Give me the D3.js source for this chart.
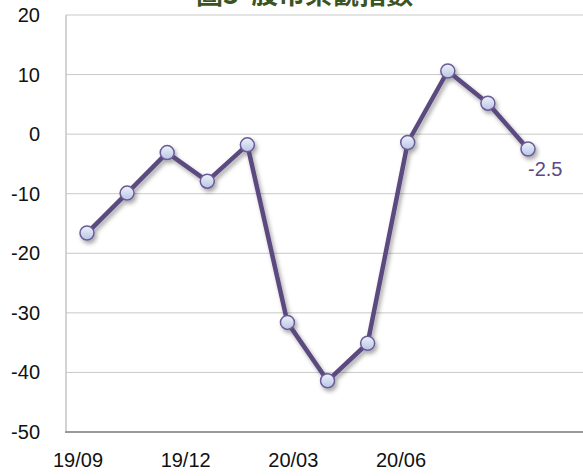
<!DOCTYPE html>
<html>
<head>
<meta charset="utf-8">
<script src="https://cdn.jsdelivr.net/npm/d3@7.9.0/dist/d3.min.js"></script>
<style>
  body { margin: 0; background: #fff; }
  svg { display: block; font-family: "Liberation Sans", Arial, sans-serif; }
</style>
</head>
<body>
<svg id="chart" width="583" height="476"></svg>
<script>
// data
const months = ['19/09', '19/10', '19/11', '19/12', '20/01', '20/02', '20/03', '20/04', '20/05', '20/06', '20/07', '20/08'];
const values = [-16.6, -9.9, -3.1, -7.9, -1.8, -31.6, -41.4, -35.1, -1.4, 10.6, 5.2, -2.5];
const tickLabels = ['19/09', '19/12', '20/03', '20/06'];
const yTicks = [20, 10, 0, -10, -20, -30, -40, -50];
const title = '圖3  股市樂觀指數';

const svg = d3.select('#chart');
const plotLeft = 66, plotRight = 640, plotTop = 15, plotBottom = 432;

const y = d3.scaleLinear().domain([-50, 20]).range([plotBottom, plotTop]);
const x = d3.scaleLinear().domain([0, months.length - 1]).range([87, 528]);
// category labels are spaced on their own in the original
const xLab = d3.scaleLinear().domain([0, 9]).range([78, 401]);

const defs = svg.append('defs');
const grad = defs.append('linearGradient').attr('id', 'dot').attr('x1', 0).attr('y1', 0).attr('x2', 0).attr('y2', 1);
grad.append('stop').attr('offset', '0%').attr('stop-color', '#eef2fb');
grad.append('stop').attr('offset', '100%').attr('stop-color', '#b7c6e6');
const f = defs.append('filter').attr('id', 'shadow').attr('x', '-20%').attr('y', '-20%').attr('width', '140%').attr('height', '140%');
f.append('feDropShadow').attr('dx', 2).attr('dy', 3).attr('stdDeviation', 2)
  .attr('flood-color', '#000').attr('flood-opacity', 0.35);

// gridlines
svg.append('g').selectAll('line').data(yTicks.filter(d => d > -50)).join('line')
  .attr('x1', plotLeft).attr('x2', plotRight)
  .attr('y1', d => y(d)).attr('y2', d => y(d))
  .attr('stroke', '#c9c9c9').attr('stroke-width', 1);

// axis lines
svg.append('line').attr('x1', plotLeft).attr('x2', plotLeft).attr('y1', plotTop).attr('y2', plotBottom)
  .attr('stroke', '#c4c4c4').attr('stroke-width', 1.5);
svg.append('line').attr('x1', plotLeft - 1).attr('x2', plotRight).attr('y1', plotBottom).attr('y2', plotBottom)
  .attr('stroke', '#9a9a9a').attr('stroke-width', 2);

// y tick labels
svg.append('g').selectAll('text').data(yTicks).join('text')
  .attr('x', 40).attr('y', d => y(d))
  .attr('text-anchor', 'end').attr('dominant-baseline', 'central')
  .attr('font-size', 20).attr('fill', '#111')
  .text(d => d);

// x tick labels
svg.append('g').selectAll('text').data(tickLabels).join('text')
  .attr('x', d => xLab(months.indexOf(d)))
  .attr('y', 467)
  .attr('text-anchor', 'middle')
  .attr('font-size', 20).attr('fill', '#111')
  .text(d => d);

// series
const line = d3.line().x((d, i) => x(i)).y(d => y(d));
const series = svg.append('g').attr('filter', 'url(#shadow)');
series.append('path').datum(values)
  .attr('d', line)
  .attr('fill', 'none')
  .attr('stroke', '#5b4a7f')
  .attr('stroke-width', 4.5)
  .attr('stroke-linejoin', 'round');
series.selectAll('circle').data(values).join('circle')
  .attr('cx', (d, i) => x(i)).attr('cy', d => y(d))
  .attr('r', 7)
  .attr('fill', 'url(#dot)')
  .attr('stroke', '#6a5b95').attr('stroke-width', 1.5);

// last value label
const last = values.length - 1;
svg.append('text')
  .attr('x', x(last)).attr('y', y(values[last]) + 27)
  .attr('font-size', 20).attr('fill', '#5b4a86')
  .text(values[last]);

// title (cut off at the top in the original)
svg.append('text')
  .attr('x', 196).attr('y', 4)
  .attr('font-family', '"Noto Sans CJK TC", sans-serif')
  .attr('font-weight', 'bold').attr('font-size', 27)
  .attr('fill', '#3b5424')
  .style('white-space', 'pre')
  .text(title);
</script>
</body>
</html>
